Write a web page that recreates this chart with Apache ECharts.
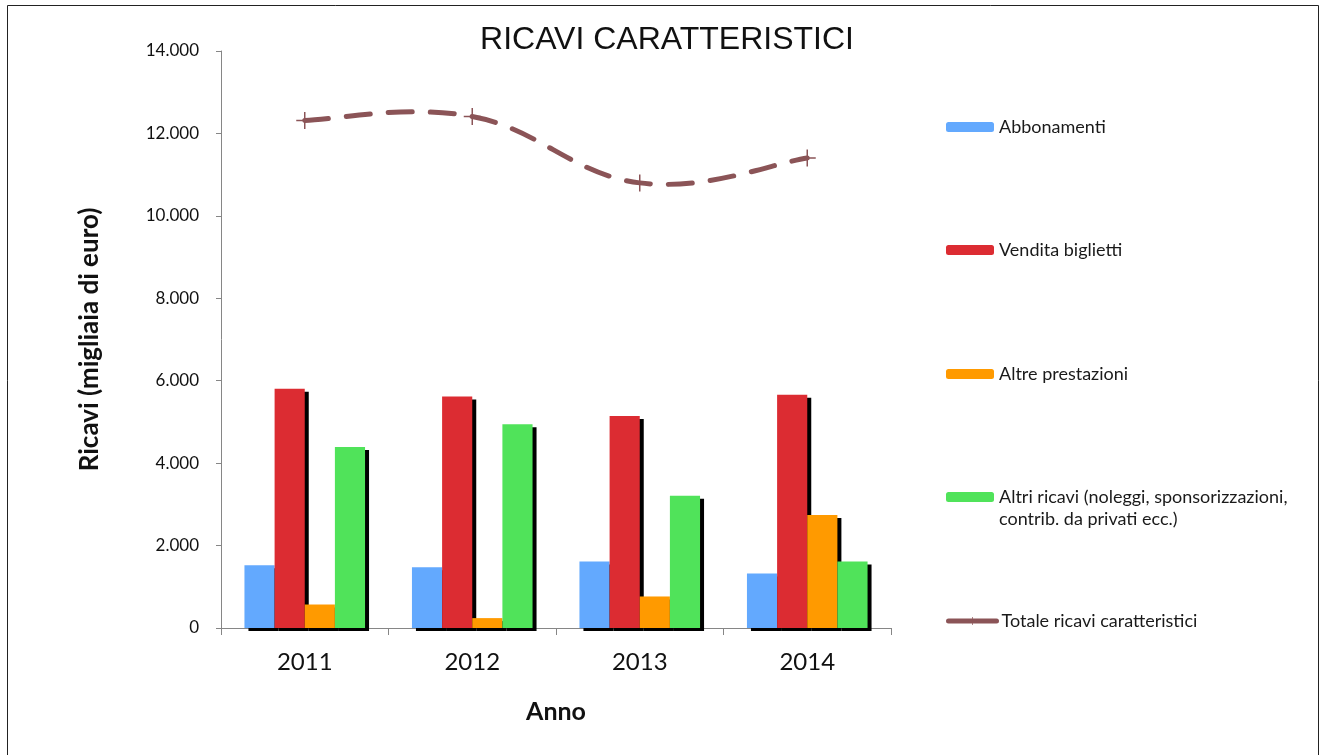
<!DOCTYPE html>
<html>
<head>
<meta charset="utf-8">
<title>Ricavi caratteristici</title>
<script src="https://cdn.jsdelivr.net/npm/echarts@6/dist/echarts.min.js"></script>
<style>
  html, body { margin: 0; padding: 0; background: #fff; }
  #chart { width: 1321px; height: 755px; }
</style>
</head>
<body>
<div id="chart"></div>
<script>
// data (migliaia di euro)
var anni = ['2011', '2012', '2013', '2014'];
var abbonamenti = [1525, 1475, 1615, 1325];
var venditaBiglietti = [5805, 5615, 5145, 5660];
var altrePrestazioni = [570, 240, 765, 2740];
var altriRicavi = [4390, 4945, 3210, 1615];
var totaleRicavi = [12315, 12410, 10800, 11405];

var nomi = [
    'Abbonamenti',
    'Vendita biglietti',
    'Altre prestazioni',
    'Altri ricavi (noleggi, sponsorizzazioni,\ncontrib. da privati ecc.)',
    'Totale ricavi caratteristici'
];
var colori = ['#63a9fe', '#dc2c32', '#ff9a00', '#50e35a', '#8b5457'];

var FONT = 'Lato';

function fmt(v) {
    return String(v).replace(/\B(?=(\d{3})+(?!\d))/g, '.');
}

function barSeries(i, values) {
    return {
        name: nomi[i],
        type: 'bar',
        data: values,
        barGap: '0%',
        barCategoryGap: '28%',
        itemStyle: {
            color: colori[i],
            shadowColor: '#000',
            shadowBlur: 0,
            shadowOffsetX: 4,
            shadowOffsetY: 3
        }
    };
}

// Excel-like smoothed curve (catmull-rom -> bezier), points come from api.coord
function renderCurve(params, api) {
    if (params.dataIndex !== 0) return null;
    var pts = totaleRicavi.map(function(v, i) {
        return api.coord([i, v]);
    });
    var k = 1.2 / 6;
    var d = 'M' + pts[0][0] + ',' + pts[0][1];
    for (var i = 0; i < pts.length - 1; i++) {
        var p0 = pts[Math.max(i - 1, 0)];
        var p1 = pts[i];
        var p2 = pts[i + 1];
        var p3 = pts[Math.min(i + 2, pts.length - 1)];
        var c1x = p1[0] + (p2[0] - p0[0]) * k;
        var c1y = p1[1] + (p2[1] - p0[1]) * k;
        var c2x = p2[0] - (p3[0] - p1[0]) * k;
        var c2y = p2[1] - (p3[1] - p1[1]) * k;
        d += ' C' + c1x + ',' + c1y + ' ' + c2x + ',' + c2y + ' ' + p2[0] + ',' + p2[1];
    }
    return {
        type: 'path',
        shape: { pathData: d },
        style: {
            fill: null,
            stroke: colori[4],
            lineWidth: 5,
            lineDash: [24, 18],
            lineCap: 'round'
        }
    };
}

// one legend per entry so each sits where it does in the picture
var legendTops = [117, 240, 364, 464, 611];
var legends = nomi.map(function(n, i) {
    var isLong = i === 3;
    return {
        data: [n],
        orient: 'vertical',
        left: 946,
        top: legendTops[i],
        padding: 0,
        itemWidth: 48,
        itemHeight: 10,
        selectedMode: false,
        // blank first line keeps the icon level with the first text line
        formatter: function(name) {
            return isLong ? '\n' + name : name;
        },
        lineStyle: { type: 'solid', width: 5, cap: 'round', opacity: 1, color: colori[4] },
        textStyle: {
            fontFamily: FONT,
            fontSize: 18,
            color: '#1a1a1a',
            lineHeight: isLong ? 22 : 20
        }
    };
});

var chart = echarts.init(document.getElementById('chart'));
chart.setOption({
    backgroundColor: '#fff',
    animation: false,
    title: {
        text: 'RICAVI CARATTERISTICI',
        left: 662,
        top: 19,
        textAlign: 'center',
        textStyle: {
            fontFamily: 'Liberation Sans',
            fontSize: 32,
            fontWeight: 'normal',
            color: '#111'
        }
    },
    legend: legends,
    graphic: [{
        type: 'rect',
        shape: { x: 7.5, y: 5.5, width: 1311, height: 760 },
        style: { fill: null, stroke: '#222', lineWidth: 1 },
        silent: true
    }],
    grid: {
        left: 221,
        right: 430,
        top: 51,
        bottom: 127
    },
    xAxis: {
        type: 'category',
        data: anni,
        name: 'Anno',
        nameLocation: 'middle',
        nameGap: 71,
        nameTextStyle: {
            fontFamily: FONT,
            fontSize: 25,
            fontWeight: 'bold',
            color: '#111'
        },
        axisLine: { lineStyle: { color: '#868686', width: 1 } },
        axisTick: { show: true, length: 7, alignWithLabel: false, lineStyle: { color: '#868686' } },
        axisLabel: {
            fontFamily: FONT,
            fontSize: 24,
            color: '#111',
            margin: 22
        }
    },
    yAxis: {
        type: 'value',
        min: 0,
        max: 14000,
        interval: 2000,
        name: 'Ricavi (migliaia di euro)',
        nameLocation: 'middle',
        nameGap: 118,
        nameTextStyle: {
            fontFamily: FONT,
            fontSize: 26,
            fontWeight: 'bold',
            color: '#111'
        },
        axisLine: { show: true, lineStyle: { color: '#868686', width: 1 } },
        axisTick: { show: true, length: 5, lineStyle: { color: '#868686' } },
        splitLine: { show: false },
        axisLabel: {
            fontFamily: FONT,
            fontSize: 17,
            color: '#111',
            margin: 22,
            formatter: fmt
        }
    },
    series: [
        barSeries(0, abbonamenti),
        barSeries(1, venditaBiglietti),
        barSeries(2, altrePrestazioni),
        barSeries(3, altriRicavi),
        {
            type: 'custom',
            renderItem: renderCurve,
            data: totaleRicavi,
            z: 4,
            silent: true
        },
        {
            name: nomi[4],
            type: 'line',
            data: totaleRicavi,
            symbol: 'path://M7.3,0h1.4v16h-1.4z M0,7.3h16v1.4h-16z',
            symbolSize: 17,
            z: 5,
            itemStyle: { color: colori[4] },
            lineStyle: { color: colori[4], width: 5, opacity: 0 }
        }
    ]
});

window.addEventListener('resize', function() {
    chart.resize();
});
</script>
</body>
</html>
